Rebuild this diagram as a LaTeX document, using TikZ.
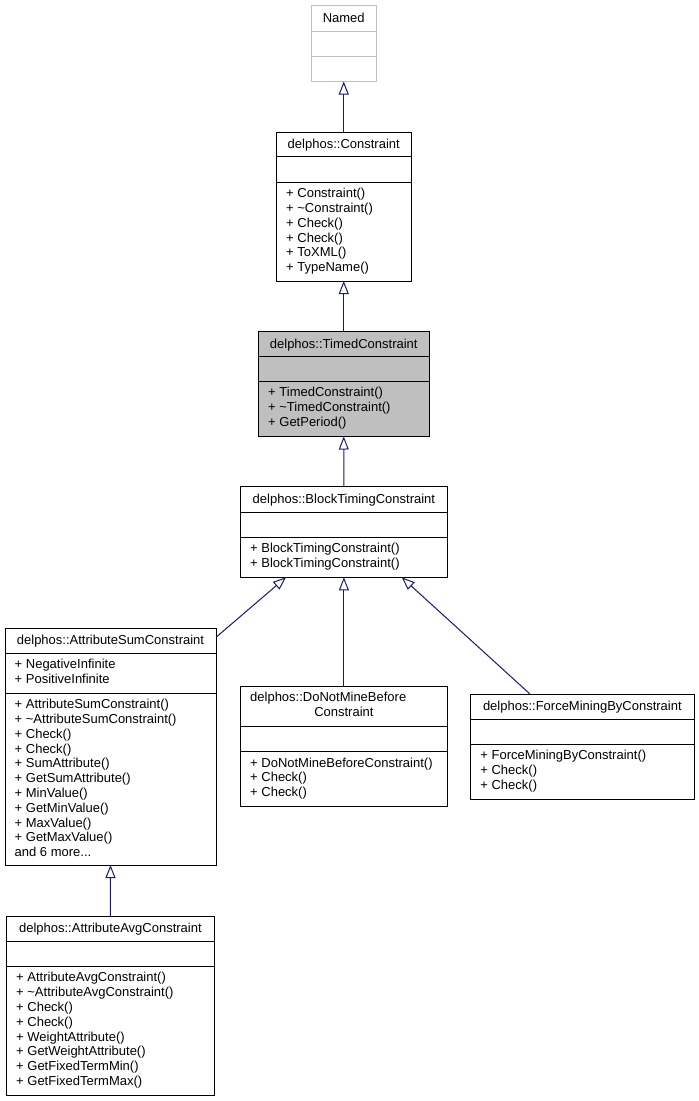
\documentclass[tikz,border=0pt]{standalone}
\usepackage{fontspec}
\setmainfont{Liberation Sans}
\usetikzlibrary{arrows.meta}
\definecolor{edgeblue}{HTML}{191970}
\definecolor{boxgray}{HTML}{BFBFBF}
\tikzset{
  cls/.style={draw=black, line width=1pt, inner sep=0pt, outer sep=0pt, anchor=north west},
  div/.style={line width=1pt},
  ttl/.style={anchor=base, inner sep=0pt, font=\fontsize{13}{14.8}\selectfont},
  mem/.style={anchor=base west, inner sep=0pt, font=\fontsize{13}{14.8}\selectfont},
  inh/.style={draw=edgeblue, line width=1pt, -{Triangle[open, length=13pt, width=10pt]}}
}
% #1 style, #2 name, #3 L, #4 R, #5 T, #6 D1, #7 D2, #8 B
\newcommand\umlbox[8][]{%
  \node[cls,#1,minimum width={#4-#3},minimum height={#8-#5}] (#2) at (#3,#5) {};
  \draw[div,#1] (#3,#6) -- (#4,#6);
  \draw[div,#1] (#3,#7) -- (#4,#7);
}
% #1 prefix, #2 x, #3 first baseline, #4 items
\newcommand\mlist[4]{%
  \foreach \t [count=\i from 0] in {#4} {\node[mem] (#1-\i) at (#2,{#3+\i*14.8}) {\t};}%
}
\begin{document}
\begin{tikzpicture}[x=1pt,y=-1pt]
\useasboundingbox (0,0) rectangle (699,1101);
\fill[white] (0,0) rectangle (699,1101);

% Named
\umlbox[draw=boxgray]{named}{311.5}{376}{5.5}{31.5}{56.5}{81.5}
\node[ttl] (named-t) at ({(311.5+376)/2},22.5) {Named};

% Constraint
\umlbox{constraint}{276.5}{411}{132}{156.5}{182.3}{281}
\node[ttl] (constraint-t) at ({(276.5+411)/2},148.5) {delphos::Constraint};
\mlist{constraint-m}{286}{197.6}{{+ Constraint()},{+ \textasciitilde Constraint()},{+ Check()},{+ Check()},{+ ToXML()},{+ TypeName()}}

% TimedConstraint
\umlbox[fill=boxgray]{timed}{258.5}{429}{331.5}{356.5}{381.5}{436.5}
\node[ttl] (timed-t) at ({(258.5+429)/2},348) {delphos::TimedConstraint};
\mlist{timed-m}{268}{396.8}{{+ TimedConstraint()},{+ \textasciitilde TimedConstraint()},{+ GetPeriod()}}

% BlockTimingConstraint
\umlbox{btc}{240.5}{447.3}{486.7}{512}{537.3}{577.3}
\node[ttl] (btc-t) at ({(240.5+447.3)/2},503.2) {delphos::BlockTimingConstraint};
\mlist{btc-m}{250}{552.6}{{+ BlockTimingConstraint()},{+ BlockTimingConstraint()}}

% AttributeSumConstraint
\umlbox{asc}{5}{216}{628.3}{653.3}{693.3}{865}
\node[ttl] (asc-t) at ({(5+216)/2},644.8) {delphos::AttributeSumConstraint};
\mlist{asc-a}{14.5}{668.6}{{+ NegativeInfinite},{+ PositiveInfinite}}
\mlist{asc-m}{14.5}{708.6}{{+ AttributeSumConstraint()},{+ \textasciitilde AttributeSumConstraint()},{+ Check()},{+ Check()},{+ SumAttribute()},{+ GetSumAttribute()},{+ MinValue()},{+ GetMinValue()},{+ MaxValue()},{+ GetMaxValue()},{and 6 more{.}{.}{.}}}

% DoNotMineBeforeConstraint
\umlbox{dnmb}{240.5}{447.3}{686.7}{726}{751.7}{806.7}
\node[mem] (dnmb-t1) at (250,701.8) {delphos::DoNotMineBefore};
\node[ttl] (dnmb-t2) at ({(240.5+447.3)/2},716.6) {Constraint};
\mlist{dnmb-m}{250}{767}{{+ DoNotMineBeforeConstraint()},{+ Check()},{+ Check()}}

% ForceMiningByConstraint
\umlbox{fmb}{470.7}{694}{694}{719}{744.3}{799.3}
\node[ttl] (fmb-t) at ({(470.7+694)/2},710.5) {delphos::ForceMiningByConstraint};
\mlist{fmb-m}{480.2}{759.6}{{+ ForceMiningByConstraint()},{+ Check()},{+ Check()}}

% AttributeAvgConstraint
\umlbox{aac}{6.5}{214.3}{916}{941.5}{966.5}{1095}
\node[ttl] (aac-t) at ({(6.5+214.3)/2},932.5) {delphos::AttributeAvgConstraint};
\mlist{aac-m}{16}{981.8}{{+ AttributeAvgConstraint()},{+ \textasciitilde AttributeAvgConstraint()},{+ Check()},{+ Check()},{+ WeightAttribute()},{+ GetWeightAttribute()},{+ GetFixedTermMin()},{+ GetFixedTermMax()}}

% inheritance connectors
\draw[inh] (constraint.north) -- (named.south);
\draw[inh] (timed.north) -- (constraint.south);
\draw[inh] (btc.north) -- (timed.south);
\draw[inh] ([yshift=-9pt]asc.north east) -- ([xshift=45.5pt]btc.south west);
\draw[inh] (dnmb.north) -- (btc.south);
\draw[inh] ([xshift=59.3pt]fmb.north west) -- ([xshift=-45.6pt]btc.south east);
\draw[inh] (aac.north) -- (asc.south);
\end{tikzpicture}
\end{document}
